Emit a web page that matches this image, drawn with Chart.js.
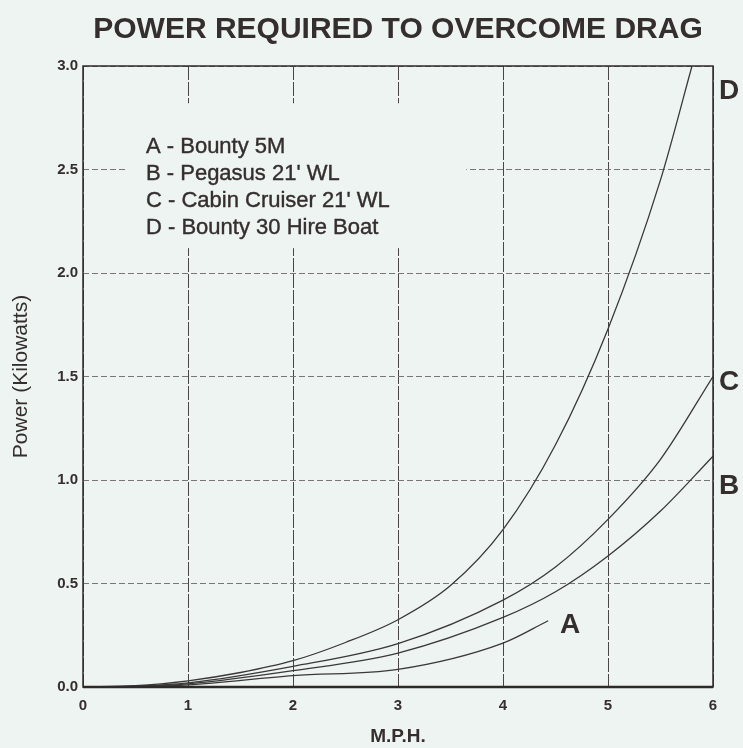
<!DOCTYPE html>
<html>
<head>
<meta charset="utf-8">
<script src="https://cdn.jsdelivr.net/npm/chart.js@4.4.1/dist/chart.umd.min.js"></script>
<style>
    html, body { margin: 0; padding: 0; background: #eef4f1; }
    #wrap { width: 743px; height: 748px; }
</style>
</head>
<body>
<div id="wrap"><canvas id="dragChart"></canvas></div>
<script>
// Chart data
const chartTitle = 'POWER REQUIRED TO OVERCOME DRAG';
const xAxisTitle = 'M.P.H.';
const yAxisTitle = 'Power (Kilowatts)';
const legendLines = ['A - Bounty 5M', "B - Pegasus 21' WL", "C - Cabin Cruiser 21' WL", 'D - Bounty 30 Hire Boat'];
const seriesLetters = ['A', 'B', 'C', 'D'];

const xTicks = [0, 1, 2, 3, 4, 5, 6];
const yTicks = [0, 0.5, 1.0, 1.5, 2.0, 2.5, 3.0];

// speed (mph) / power (kW) for each boat
const speedA = [0, 0.5, 1, 2, 3, 4, 4.43];
const powerA = [0, 0.002, 0.01, 0.055, 0.085, 0.212, 0.32];

const speedB = [0, 0.5, 1, 2, 3, 4, 4.5, 5, 5.5, 6];
const powerB = [0, 0.003, 0.015, 0.079, 0.164, 0.336, 0.46, 0.633, 0.85, 1.115];

const speedC = [0, 0.5, 1, 2, 3, 4, 4.5, 5, 5.5, 6];
const powerC = [0, 0.004, 0.02, 0.10, 0.21, 0.42, 0.58, 0.81, 1.1, 1.5];

const speedD = [0, 0.5, 1, 1.5, 2, 2.5, 3, 3.5, 4, 4.5, 5, 5.5, 5.8];
const powerD = [0, 0.006, 0.03, 0.07, 0.127, 0.215, 0.325, 0.49, 0.76, 1.17, 1.73, 2.45, 3.0];

const bgColor = '#eef4f1';
const inkColor = '#352e2e';
const lineColor = '#3a3838';

function toPoints(xs, ys) {
    return xs.map((v, i) => ({ x: v, y: ys[i] }));
}

function makeSet(label, xs, ys) {
    return {
        label: label,
        data: toPoints(xs, ys),
        borderColor: lineColor,
        borderWidth: 1.3,
        pointRadius: 0,
        fill: false,
        cubicInterpolationMode: 'monotone'
    };
}

// extra drawing: title, legend block, frame and the curve letters
const annotate = {
    id: 'annotate',
    beforeDatasetsDraw(chart) {
        const { ctx, scales: { x, y } } = chart;
        const l = x.getPixelForValue(0.4), r = x.getPixelForValue(3.65);
        const t = y.getPixelForValue(2.82), b = y.getPixelForValue(2.12);
        ctx.save();
        ctx.fillStyle = bgColor;
        ctx.fillRect(l, t, r - l, b - t);
        ctx.fillStyle = inkColor;
        ctx.strokeStyle = inkColor;
        ctx.lineWidth = 0.4;
        ctx.font = '22px "Liberation Sans", Arial, sans-serif';
        ctx.textBaseline = 'middle';
        legendLines.forEach((txt, i) => {
            const ty = y.getPixelForValue(2.61) + i * 27;
            ctx.fillText(txt, x.getPixelForValue(0.6), ty);
            ctx.strokeText(txt, x.getPixelForValue(0.6), ty);
        });
        ctx.restore();
    },
    afterDraw(chart) {
        const { ctx, chartArea: area, scales: { x, y } } = chart;
        ctx.save();
        // frame
        ctx.strokeStyle = '#2e2a2a';
        ctx.lineWidth = 1.5;
        ctx.strokeRect(area.left, area.top, area.right - area.left, area.bottom - area.top);
        ctx.lineWidth = 2.5;
        ctx.beginPath();
        ctx.moveTo(area.left, area.bottom);
        ctx.lineTo(area.right, area.bottom);
        ctx.stroke();

        ctx.fillStyle = inkColor;
        ctx.textAlign = 'center';
        ctx.textBaseline = 'middle';
        ctx.font = 'bold 30px "Liberation Sans", Arial, sans-serif';
        ctx.fillText(chartTitle, (area.left + area.right) / 2, 30);

        ctx.font = 'bold 28px "Liberation Sans", Arial, sans-serif';
        const endX = area.right + 16;
        ctx.fillText(seriesLetters[3], endX, y.getPixelForValue(2.88));
        ctx.fillText(seriesLetters[2], endX, y.getPixelForValue(1.47));
        ctx.fillText(seriesLetters[1], endX, y.getPixelForValue(0.97));
        ctx.fillText(seriesLetters[0], x.getPixelForValue(4.64), y.getPixelForValue(0.3));
        ctx.restore();
    }
};

const chartCanvas = document.getElementById('dragChart');

new Chart(chartCanvas, {
    type: 'line',
    data: {
        datasets: [
            makeSet('A', speedA, powerA),
            makeSet('B', speedB, powerB),
            makeSet('C', speedC, powerC),
            makeSet('D', speedD, powerD)
        ]
    },
    options: {
        responsive: true,
        maintainAspectRatio: false,
        animation: false,
        layout: { padding: { top: 66, right: 30, left: 0, bottom: 0 } },
        plugins: {
            legend: { display: false },
            tooltip: { enabled: false }
        },
        scales: {
            x: {
                type: 'linear',
                min: 0,
                max: 6,
                afterBuildTicks: s => { s.ticks = xTicks.map(v => ({ value: v })); },
                afterFit: s => { s.height = 61; },
                grid: {
                    color: '#4a4545',
                    lineWidth: 1,
                    drawTicks: false
                },
                border: { display: false, dash: [14, 2] },
                ticks: {
                    padding: 10,
                    color: inkColor,
                    font: { family: '"Liberation Sans", Arial, sans-serif', size: 15, weight: 'bold' }
                },
                title: {
                    display: true,
                    text: xAxisTitle,
                    color: inkColor,
                    padding: { top: 3, bottom: 0 },
                    font: { family: '"Liberation Sans", Arial, sans-serif', size: 19, weight: 'bold' }
                }
            },
            y: {
                type: 'linear',
                min: 0,
                max: 3,
                afterBuildTicks: s => { s.ticks = yTicks.map(v => ({ value: v })); },
                afterFit: s => { s.width = 83; },
                grid: {
                    color: '#7a7676',
                    lineWidth: 1,
                    drawTicks: false
                },
                border: { display: false, dash: [6, 3] },
                ticks: {
                    padding: 5,
                    color: inkColor,
                    callback: v => v.toFixed(1),
                    font: { family: '"Liberation Sans", Arial, sans-serif', size: 15, weight: 'bold' }
                },
                title: {
                    display: true,
                    text: yAxisTitle,
                    color: inkColor,
                    padding: { top: 9, bottom: 0 },
                    font: { family: '"Liberation Sans", Arial, sans-serif', size: 21 }
                }
            }
        }
    },
    plugins: [annotate]
});
</script>
</body>
</html>
